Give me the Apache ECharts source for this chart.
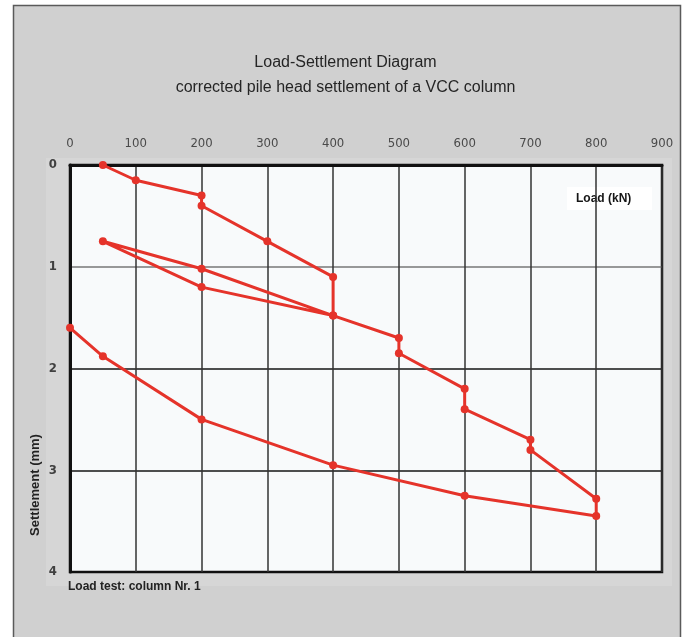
<!DOCTYPE html>
<html>
<head>
<meta charset="utf-8">
<script src="https://cdn.jsdelivr.net/npm/echarts@6/dist/echarts.min.js"></script>
<style>
html,body{margin:0;padding:0;background:#ffffff;}
#chart{width:691px;height:637px;}
</style>
</head>
<body>
<div id="chart"></div>
<script>
// Data
var loadValues = [50, 100, 200, 200, 300, 400, 400, 200, 50, 200, 400, 500, 500, 600, 600, 700, 700, 800, 800, 600, 400, 200, 50, 0];
var settlementValues = [0, 0.15, 0.30, 0.40, 0.75, 1.10, 1.48, 1.20, 0.75, 1.02, 1.48, 1.70, 1.85, 2.20, 2.40, 2.70, 2.80, 3.28, 3.45, 3.25, 2.95, 2.50, 1.88, 1.60];
var titleText = 'Load-Settlement Diagram';
var subtitleText = 'corrected pile head settlement of a VCC column';
var xAxisMax = 900;
var yAxisMax = 4;

var seriesData = loadValues.map(function (v, i) { return [v, settlementValues[i]]; });

var chart = echarts.init(document.getElementById('chart'), null, {renderer: 'canvas'});
var narrow = '"Liberation Sans Narrow", "DejaVu Sans Condensed", "Liberation Sans", sans-serif';
var sans = '"Liberation Sans", Arial, sans-serif';

chart.setOption({
  backgroundColor: '#ffffff',
  animation: false,
  graphic: [
    {type: 'rect', z: -10, shape: {x: 13.5, y: 5.5, width: 667, height: 650},
     style: {fill: '#d0d0d0', stroke: '#5a5a5a', lineWidth: 1.5}},
    {type: 'rect', z: -9, shape: {x: 46, y: 158, width: 626, height: 428},
     style: {fill: '#d6d6d6'}},
    {type: 'group', left: 567, top: 187, z: 100, children: [
      {type: 'rect', shape: {x: 0, y: 0, width: 85, height: 23}, style: {fill: '#ffffff'}},
      {type: 'text', x: 9, y: 12, style: {text: 'Load (kN)', font: 'bold 12px ' + sans, fill: '#151515', verticalAlign: 'middle'}}
    ]},
    {type: 'text', left: 68, top: 581, z: 100,
     style: {text: 'Load test: column Nr. 1', font: 'bold 12px ' + sans, fill: '#222222'}},
    {type: 'text', x: 35, y: 485, rotation: Math.PI / 2, z: 100,
     style: {text: 'Settlement (mm)', font: 'bold 13px ' + sans, fill: '#222222', align: 'center', verticalAlign: 'middle'}}
  ],
  title: {
    text: titleText,
    subtext: subtitleText,
    left: 'center',
    top: 50,
    itemGap: 9,
    textStyle: {fontFamily: sans, fontSize: 16, fontWeight: 'normal', color: '#252525'},
    subtextStyle: {fontFamily: sans, fontSize: 16, fontWeight: 'normal', color: '#252525'}
  },
  grid: {
    left: 70, top: 165, width: 592, height: 407,
    show: true, backgroundColor: '#f8fafb', borderColor: '#111111', borderWidth: 2.5
  },
  xAxis: {
    type: 'value', position: 'top', min: 0, max: xAxisMax, interval: 100,
    axisLine: {show: true, onZero: false, lineStyle: {color: '#111111', width: 3}},
    axisTick: {show: false},
    axisLabel: {margin: 15, color: '#4a4a4a', fontFamily: narrow, fontSize: 13},
    splitLine: {show: true, lineStyle: {color: '#333333', width: 1.5}}
  },
  yAxis: {
    type: 'value', inverse: true, min: 0, max: yAxisMax, interval: 1,
    axisLine: {show: true, onZero: false, lineStyle: {color: '#111111', width: 3}},
    axisTick: {show: false},
    axisLabel: {margin: 13, color: '#404040', fontFamily: narrow, fontSize: 13, fontWeight: 'bold'},
    splitLine: {show: true, lineStyle: {color: ['#111111', '#777777', '#151515', '#151515', '#111111'], width: 1.5}}
  },
  series: [{
    type: 'line',
    data: seriesData,
    color: '#e5332a',
    symbol: 'circle',
    symbolSize: 8,
    lineStyle: {width: 3, color: '#e5332a'},
    itemStyle: {color: '#e5332a'},
    z: 10
  }]
});
</script>
</body>
</html>
